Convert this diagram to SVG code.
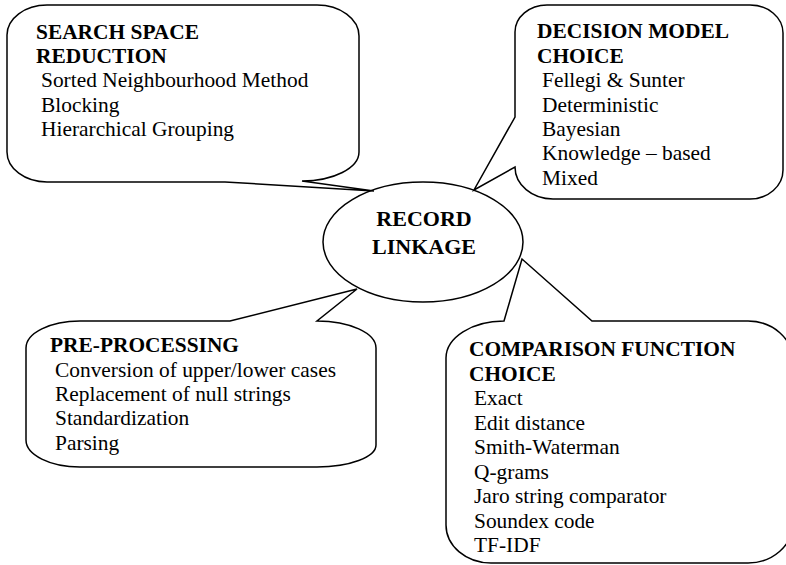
<svg xmlns="http://www.w3.org/2000/svg" width="786" height="565" viewBox="0 0 786 565">
<style>
.shape{fill:#fff;stroke:#000;stroke-width:1.5;stroke-linejoin:miter}
.h{font-family:'Liberation Serif','Times New Roman',Times,serif;font-size:21.4px;font-weight:bold;fill:#000}
.t{font-family:'Liberation Serif','Times New Roman',Times,serif;font-size:21.4px;fill:#000}
.c{font-family:'Liberation Serif','Times New Roman',Times,serif;font-size:22px;font-weight:bold;fill:#000;text-anchor:middle}
</style>
<rect width="786" height="565" fill="#fff"/>
<g id="record-linkage">
<ellipse class="shape" cx="423" cy="242" rx="100" ry="60"/>
<text class="c" x="424" y="226">RECORD</text>
<text class="c" x="424" y="254">LINKAGE</text>
</g>
<g id="search-space-reduction">
<path class="shape" d="M47,5 H317 A42 31 0 0 1 359,36 V152 A57 29 0 0 1 302,181 L374,191 L225,182 H47 A40 30 0 0 1 7,152 V35 A40 30 0 0 1 47,5 Z"/>
<text class="h" x="36" y="39">SEARCH SPACE</text>
<text class="h" x="36" y="63">REDUCTION</text>
<text class="t" x="41" y="87">Sorted Neighbourhood Method</text>
<text class="t" x="41" y="112">Blocking</text>
<text class="t" x="41" y="136">Hierarchical Grouping</text>
</g>
<g id="decision-model-choice">
<path class="shape" d="M547,5 H750 A33 28 0 0 1 783,33 V170 A33 29 0 0 1 750,199 H553 A38 32 0 0 1 515,167 L474,190 L515,117 V32 A32 27 0 0 1 547,5 Z"/>
<text class="h" x="537" y="38">DECISION MODEL</text>
<text class="h" x="537" y="63">CHOICE</text>
<text class="t" x="542" y="87">Fellegi &amp; Sunter</text>
<text class="t" x="542" y="112">Deterministic</text>
<text class="t" x="542" y="136">Bayesian</text>
<text class="t" x="542" y="160">Knowledge – based</text>
<text class="t" x="542" y="185">Mixed</text>
</g>
<g id="pre-processing">
<path class="shape" d="M80,321 H230 L357,289 L317,321 A59 27 0 0 1 376,348 V445 A59 22 0 0 1 317,467 H80 A54 27 0 0 1 26,440 V348 A54 27 0 0 1 80,321 Z"/>
<text class="h" x="50" y="352">PRE-PROCESSING</text>
<text class="t" x="55" y="377">Conversion of upper/lower cases</text>
<text class="t" x="55" y="401">Replacement of null strings</text>
<text class="t" x="55" y="425">Standardization</text>
<text class="t" x="55" y="450">Parsing</text>
</g>
<g id="comparison-function-choice">
<path class="shape" d="M504,321 L522,259 L592,321 H748 A45 40 0 0 1 793,361 V523 A45 40 0 0 1 748,563 H491 A45 38 0 0 1 446,525 V358 A58 37 0 0 1 504,321 Z"/>
<text class="h" x="469" y="356">COMPARISON FUNCTION</text>
<text class="h" x="469" y="381">CHOICE</text>
<text class="t" x="474" y="405">Exact</text>
<text class="t" x="474" y="430">Edit distance</text>
<text class="t" x="474" y="454">Smith-Waterman</text>
<text class="t" x="474" y="479">Q-grams</text>
<text class="t" x="474" y="503">Jaro string comparator</text>
<text class="t" x="474" y="528">Soundex code</text>
<text class="t" x="474" y="552">TF-IDF</text>
</g>
<g id="connectors"></g>
</svg>
